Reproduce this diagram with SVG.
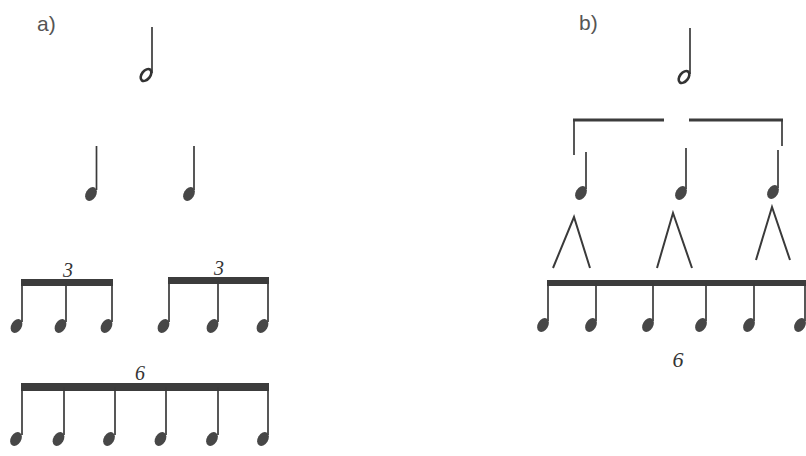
<svg xmlns="http://www.w3.org/2000/svg" xmlns:xlink="http://www.w3.org/1999/xlink" width="806" height="456" viewBox="0 0 806 456">
<style>
.stem{stroke:#3a3a3a;stroke-width:1.7;fill:none}
.beam{fill:#3c3c3c}
.br{stroke:#3a3a3a;fill:none;stroke-width:1.7}
.lam{stroke:#3a3a3a;fill:none;stroke-width:2}
.lbl{font-family:"Liberation Sans",Arial,sans-serif;font-size:21px;fill:#555}
.num{font-family:"Liberation Serif","Times New Roman",serif;font-style:italic;font-size:20px;fill:#333;text-anchor:middle}
</style>
<defs>
<ellipse id="h" rx="7.4" ry="5.2" transform="rotate(-58)" fill="#474747"/>
<ellipse id="hh" rx="6.8" ry="4.2" transform="rotate(-52)" fill="none" stroke="#333" stroke-width="2.6"/>
</defs>
<rect width="806" height="456" fill="#fff"/>

<g id="part-a">
<text class="lbl" x="37" y="31">a)</text>
<g id="a-half"><line class="stem" x1="152" y1="27" x2="152" y2="73"/><use href="#hh" x="146" y="75"/></g>
<g id="a-q1"><line class="stem" x1="96.5" y1="146" x2="96.5" y2="190"/><use href="#h" x="91" y="194"/></g>
<g id="a-q2"><line class="stem" x1="194" y1="146" x2="194" y2="190"/><use href="#h" x="189" y="194"/></g>

<g id="a-triplet1">
<text class="num" x="68" y="277">3</text>
<rect class="beam" x="21" y="279" width="92" height="7"/>
<line class="stem" x1="22" y1="283" x2="22" y2="322"/><use href="#h" x="16.5" y="326"/>
<line class="stem" x1="66" y1="283" x2="66" y2="322"/><use href="#h" x="60.5" y="326"/>
<line class="stem" x1="112" y1="283" x2="112" y2="322"/><use href="#h" x="106.5" y="326"/>
</g>
<g id="a-triplet2">
<text class="num" x="219" y="275">3</text>
<rect class="beam" x="168" y="277" width="101" height="7"/>
<line class="stem" x1="169" y1="281" x2="169" y2="322"/><use href="#h" x="163.5" y="326"/>
<line class="stem" x1="218" y1="281" x2="218" y2="322"/><use href="#h" x="212.5" y="326"/>
<line class="stem" x1="268" y1="281" x2="268" y2="322"/><use href="#h" x="262.5" y="326"/>
</g>
<g id="a-sextuplet">
<text class="num" x="140" y="380">6</text>
<rect class="beam" x="21" y="383" width="248" height="8"/>
<line class="stem" x1="22" y1="387" x2="22" y2="435"/><use href="#h" x="16" y="439"/>
<line class="stem" x1="64" y1="387" x2="64" y2="435"/><use href="#h" x="58.5" y="439"/>
<line class="stem" x1="115" y1="387" x2="115" y2="435"/><use href="#h" x="109" y="439"/>
<line class="stem" x1="166" y1="387" x2="166" y2="435"/><use href="#h" x="160.5" y="439"/>
<line class="stem" x1="218" y1="387" x2="218" y2="435"/><use href="#h" x="212" y="439"/>
<line class="stem" x1="268" y1="387" x2="268" y2="435"/><use href="#h" x="263" y="439"/>
</g>
</g>

<g id="part-b">
<text class="lbl" x="579" y="30">b)</text>
<g id="b-half"><line class="stem" x1="690" y1="28" x2="690" y2="74"/><use href="#hh" x="684" y="77"/></g>
<g id="b-brackets">
<rect class="beam" x="573" y="118.5" width="91" height="3"/>
<line class="br" x1="574" y1="120" x2="574" y2="155"/>
<rect class="beam" x="689" y="118.5" width="94" height="3"/>
<line class="br" x1="782" y1="120" x2="782" y2="146"/>
</g>
<g id="b-q1"><line class="stem" x1="586" y1="152" x2="586" y2="189"/><use href="#h" x="581" y="193"/></g>
<g id="b-q2"><line class="stem" x1="686" y1="148" x2="686" y2="189"/><use href="#h" x="681" y="193"/></g>
<g id="b-q3"><line class="stem" x1="778" y1="150" x2="778" y2="188"/><use href="#h" x="773" y="192"/></g>
<g id="b-splits">
<polyline class="lam" points="553,268 574,217 590,268"/>
<polyline class="lam" points="657,268 673,213 692,268"/>
<polyline class="lam" points="756,260 772,207 790,260"/>
</g>
<g id="b-sextuplet">
<rect class="beam" x="547" y="280" width="260" height="6"/>
<line class="stem" x1="548" y1="283" x2="548" y2="321"/><use href="#h" x="543" y="325"/>
<line class="stem" x1="596" y1="283" x2="596" y2="321"/><use href="#h" x="591" y="325"/>
<line class="stem" x1="653" y1="283" x2="653" y2="321"/><use href="#h" x="648" y="325"/>
<line class="stem" x1="706" y1="283" x2="706" y2="321"/><use href="#h" x="701" y="325"/>
<line class="stem" x1="754" y1="283" x2="754" y2="321"/><use href="#h" x="749" y="325"/>
<line class="stem" x1="805" y1="283" x2="805" y2="321"/><use href="#h" x="800" y="325"/>
<text class="num" x="678" y="367" style="font-size:22px">6</text>
</g>
</g>
</svg>
